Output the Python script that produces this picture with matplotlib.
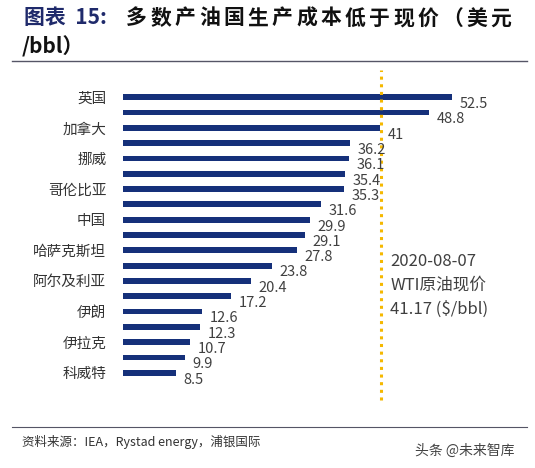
import matplotlib
matplotlib.use("Agg")
import matplotlib.pyplot as plt
from matplotlib.lines import Line2D

plt.rcParams['font.family'] = ['Noto Sans CJK SC', 'DejaVu Sans']

categories = ["英国", "", "加拿大", "", "挪威", "", "哥伦比亚", "", "中国", "",
              "哈萨克斯坦", "", "阿尔及利亚", "", "伊朗", "", "伊拉克", "", "科威特"]
values = [52.5, 48.8, 41, 36.2, 36.1, 35.4, 35.3, 31.6, 29.9, 29.1, 27.8,
          23.8, 20.4, 17.2, 12.6, 12.3, 10.7, 9.9, 8.5]
value_labels = ["52.5", "48.8", "41", "36.2", "36.1", "35.4", "35.3", "31.6", "29.9", "29.1",
                "27.8", "23.8", "20.4", "17.2", "12.6", "12.3", "10.7", "9.9", "8.5"]
wti = 41.17
title_head = "图表  15:"
title_rest = "多数产油国生产成本低于现价（美元"

fig = plt.figure(figsize=(5.35, 4.68), dpi=100)
W, H = 535, 468
ax = fig.add_axes([123/W, 1-385/H, (499-123)/W, 300/H])
y = list(range(len(values)))
ax.barh(y, values, height=0.38, color="#15307a")
for yi, v, s in zip(y, values, value_labels):
    ax.text(v + 1.2, yi + 0.45, s, va="center", ha="left", fontsize=10.5, color="#404040")
ax.set_ylim(len(values) - 0.2, -0.8)
ax.set_xlim(0, 60)
ax.set_yticks(y)
ax.set_yticklabels(categories, fontsize=10.5, color="#333333")
ax.tick_params(axis='y', length=0, pad=12)
ax.set_xticks([])
for sp in ax.spines.values():
    sp.set_visible(False)
ax.axvline(wti, color="#f5b800", linestyle=(0, (1, 1.5)), linewidth=2.2, ymin=-0.05, ymax=1.05, clip_on=False)
ax.text(wti + 1.5, 12.3, "2020-08-07\nWTI原油现价\n41.17 ($/bbl)", fontsize=12, color="#404040",
        va="center", ha="left", linespacing=1.5)

fig.text(24/W, 1-18/H, title_head, fontsize=15, fontweight="bold", color="#1f2a6b",
         va="center", ha="left")
for i, ch in enumerate(title_rest):
    fig.text((126 + 24.3 * i)/W, 1-18/H, ch, fontsize=15, fontweight="bold",
             color="#111111", va="center", ha="left")
fig.text(22/W, 1-47/H, "/bbl）", fontsize=15, fontweight="bold", color="#111111",
         va="center", ha="left")
fig.add_artist(Line2D([12/W, 527/W], [1-61/H, 1-61/H], color="#555566", lw=1.0))
fig.add_artist(Line2D([12/W, 527/W], [1-427/H, 1-427/H], color="#555566", lw=0.8))
fig.text(22/W, 1-442/H, "资料来源：IEA，Rystad energy，浦银国际", fontsize=9, color="#333333", va="center")
fig.text(415/W, 1-451/H, "头条 @未来智库", fontsize=10, color="#444444", va="center")

fig.savefig("out.png", dpi=100)
